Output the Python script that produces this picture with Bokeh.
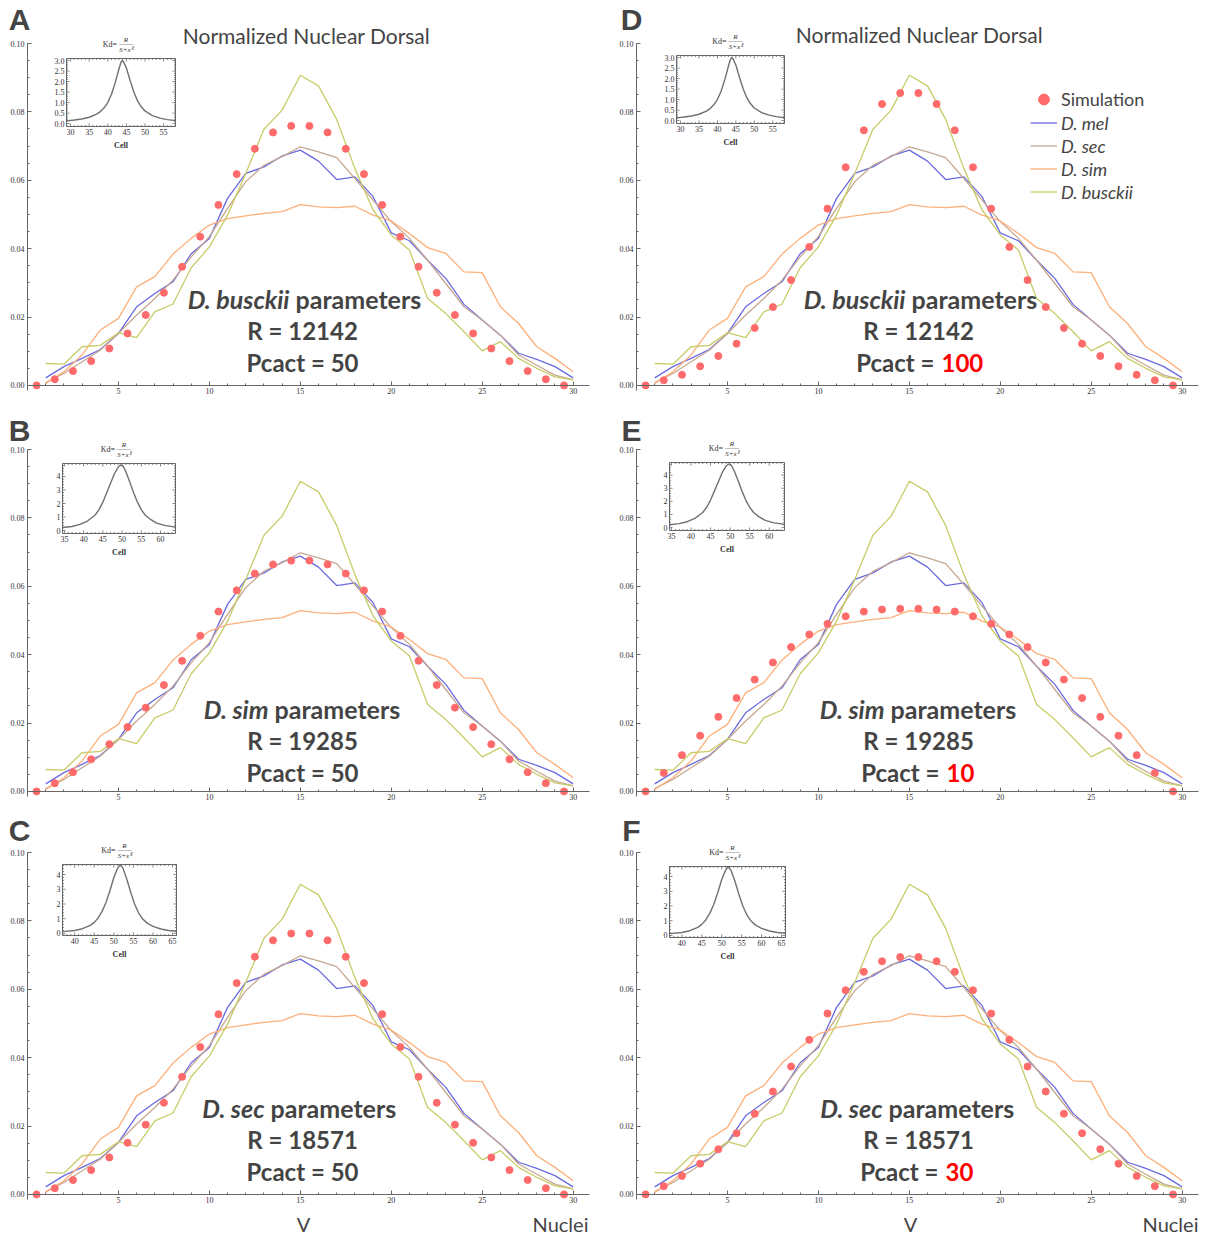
from bokeh.plotting import figure
from bokeh.models import Range1d, FixedTicker, NumeralTickFormatter, Label, Legend, LegendItem
from bokeh.layouts import column, row
from bokeh.embed import file_html
from bokeh.resources import INLINE
from bokeh.core.properties import value

# ---------------- data ----------------
NUCLEI = list(range(1, 31))
SIM_X = [i + 0.5 for i in range(30)]

MEL = [.0022, .0055, .0079, .0105, .0152, .0230, .0269, .0303, .0385, .0430,
       .0547, .0620, .0639, .0671, .0688, .0656, .0602, .0610, .0552, .0446,
       .0423, .0366, .0313, .0237, .0191, .0147, .0094, .0076, .0055, .0022]
SEC = [.0008, .0035, .0069, .0103, .0152, .0206, .0254, .0308, .0376, .0435,
       .0518, .0596, .0644, .0669, .0698, .0683, .0666, .0605, .0542, .0479,
       .0430, .0366, .0298, .0230, .0191, .0147, .0089, .0059, .0030, .0016]
SIM = [.0006, .0040, .0089, .0162, .0196, .0288, .0318, .0384, .0430, .0469,
       .0488, .0496, .0503, .0508, .0529, .0522, .0520, .0524, .0498, .0481,
       .0444, .0403, .0386, .0332, .0330, .0230, .0181, .0113, .0079, .0040]
BUSCKII = [.0064, .0062, .0113, .0117, .0154, .0140, .0215, .0238, .0344, .0405,
           .0498, .0620, .0749, .0805, .0907, .0876, .0778, .0634, .0513, .0440,
           .0396, .0254, .0210, .0157, .0101, .0128, .0079, .0050, .0025, .0016]

SIMULATION_A = [0, .0018, .0042, .0071, .0108, .0152, .0206, .0271, .0347, .0435,
                .0528, .0618, .0692, .0740, .0759, .0759, .0740, .0692, .0618, .0528,
                .0435, .0347, .0271, .0206, .0152, .0108, .0071, .0042, .0018, 0]
SIMULATION_D = [0, .0015, .0031, .0056, .0086, .0122, .0168, .0229, .0308, .0405,
                .0517, .0638, .0746, .0823, .0855, .0855, .0823, .0746, .0638, .0517,
                .0405, .0308, .0229, .0168, .0122, .0086, .0056, .0031, .0015, 0]
SIMULATION_B = [0, .0024, .0056, .0094, .0138, .0188, .0245, .0311, .0382, .0455,
                .0526, .0588, .0637, .0664, .0675, .0675, .0664, .0637, .0588, .0526,
                .0455, .0382, .0311, .0245, .0188, .0138, .0094, .0056, .0024, 0]
SIMULATION_E = [0, .0054, .0106, .0163, .0218, .0273, .0327, .0377, .0422, .0459,
                .0490, .0512, .0526, .0532, .0534, .0534, .0532, .0526, .0512, .0490,
                .0459, .0422, .0377, .0327, .0273, .0218, .0163, .0106, .0054, 0]
SIMULATION_C = [0, .0018, .0042, .0071, .0108, .0151, .0204, .0268, .0344, .0431,
                .0527, .0618, .0695, .0743, .0763, .0763, .0743, .0695, .0618, .0527,
                .0431, .0344, .0268, .0204, .0151, .0108, .0071, .0042, .0018, 0]
SIMULATION_F = [0, .0024, .0054, .0090, .0132, .0179, .0236, .0301, .0374, .0452,
                .0529, .0597, .0651, .0682, .0694, .0694, .0682, .0651, .0597, .0529,
                .0452, .0374, .0301, .0236, .0179, .0132, .0090, .0054, .0024, 0]

# inset curves (Kd vs Cell)
KD1_X = [28.9, 31, 33, 35, 37, 38, 39, 40, 41, 42, 43, 43.5, 43.8, 44.2, 45, 46, 47, 48, 49, 50, 52, 54, 56, 58.2]
KD1_Y = [0.13, 0.17, 0.22, 0.30, 0.45, 0.57, 0.75, 1.00, 1.40, 1.95, 2.60, 2.90, 3.00, 2.95, 2.65, 2.05, 1.50, 1.08, 0.80, 0.60, 0.38, 0.26, 0.19, 0.14]
KD2_X = [34.5, 37, 39, 41, 43, 44, 45, 46, 47, 48, 49, 49.6, 50.3, 51, 52, 53, 54, 55, 56, 57.5, 59, 61, 63.9]
KD2_Y = [0.22, 0.30, 0.45, 0.70, 1.15, 1.55, 2.10, 2.80, 3.50, 4.20, 4.70, 4.85, 4.75, 4.35, 3.60, 2.80, 2.10, 1.55, 1.15, 0.80, 0.55, 0.38, 0.25]
KD3_X = [36.9, 40, 42, 44, 45, 46, 47, 48, 49, 50, 51, 51.6, 52.3, 53.3, 54.3, 55.3, 56.3, 57.3, 58.5, 60, 62, 64, 66]
KD3_Y = [0.12, 0.20, 0.32, 0.55, 0.75, 1.05, 1.50, 2.10, 2.90, 3.80, 4.45, 4.65, 4.45, 3.70, 2.80, 2.00, 1.40, 1.00, 0.70, 0.48, 0.30, 0.20, 0.15]

X_TICKS = [5, 10, 15, 20, 25, 30]
Y_TICKS = [0.0, 0.02, 0.04, 0.06, 0.08, 0.10]

SPECIES = ["D. mel", "D. sec", "D. sim", "D. busckii"]
CURVES = [MEL, SEC, SIM, BUSCKII]
COLORS = ["#6a6ae0", "#c6a892", "#fdb07a", "#c8cc68"]
DOT = "#ff6b6b"

# ---------------- layout constants (pixels) ----------------
ROW_H = [406, 403, 427]
COL_W = [610, 598]
X0_PX = [27, 26]          # pixel position of x = 0 inside each column
Y10_PX = 43               # pixel position of y = 0.10 from the top of each row
KX = 562 / 30.9           # px per nucleus
KY = 346 / 0.1012         # px per unit of dorsal

INSETS = {
    "AD": dict(xlim=(28.9, 58.2), ylim=(-0.14, 3.1), xs=KD1_X, ys=KD1_Y,
               xt=[30, 35, 40, 45, 50, 55], yt=[0, .5, 1, 1.5, 2, 2.5, 3],
               yl=["0.0", "0.5", "1.0", "1.5", "2.0", "2.5", "3.0"], ym=0.1),
    "BE": dict(xlim=(34.5, 63.9), ylim=(-0.22, 4.96), xs=KD2_X, ys=KD2_Y,
               xt=[35, 40, 45, 50, 55, 60], yt=[0, 1, 2, 3, 4],
               yl=["0", "1", "2", "3", "4"], ym=0.2),
    "CF": dict(xlim=(36.9, 66.0), ylim=(-0.14, 4.68), xs=KD3_X, ys=KD3_Y,
               xt=[40, 45, 50, 55, 60, 65], yt=[0, 1, 2, 3, 4],
               yl=["0", "1", "2", "3", "4"], ym=0.2),
}

# positions are pixels from the top-left of each panel's figure
PANELS = [
    dict(letter="A", col=0, row=0, sp="D. busckii", R="12142", pc="50", red=False, sim=SIMULATION_A,
         inset="AD", box=(66, 58, 175, 126), split=292, lines=(298, 330, 362), lxy=(19, 19), title=(306, 35)),
    dict(letter="D", col=1, row=0, sp="D. busckii", R="12142", pc="100", red=True, sim=SIMULATION_D,
         inset="AD", box=(66, 55, 174, 123), split=298, lines=(298, 330, 362), lxy=(21, 19), title=(309, 34),
         legend=True, nx=331),
    dict(letter="B", col=0, row=1, sp="D. sim", R="19285", pc="50", red=False, sim=SIMULATION_B,
         inset="BE", box=(62, 57, 175, 127), split=271, lines=(302, 334, 366), lxy=(19, 24)),
    dict(letter="E", col=1, row=1, sp="D. sim", R="19285", pc="10", red=True, sim=SIMULATION_E,
         inset="BE", box=(59, 56, 174, 124), split=277, lines=(302, 334, 366), lxy=(21, 24), nx=336),
    dict(letter="C", col=0, row=2, sp="D. sec", R="18571", pc="50", red=False, sim=SIMULATION_C,
         inset="CF", box=(62, 55, 176, 126), split=267, lines=(298, 330, 362), lxy=(19, 21), bottom=(303, 560)),
    dict(letter="F", col=1, row=2, sp="D. sec", R="18571", pc="30", red=True, sim=SIMULATION_F,
         inset="CF", box=(59, 57, 175, 128), split=275, lines=(298, 330, 362), lxy=(21, 21), nx=335,
         bottom=(300, 560)),
]

SERIF = "Liberation Serif"
SANS = "Lato"
GREY = "#666666"


def lab(p, H, px, py, text, size, **kw):
    p.add_layout(Label(x=px, y=H - py, x_units="screen", y_units="screen", text=text,
                       text_font=kw.pop("font", SANS), text_font_size=size,
                       text_align=kw.pop("align", "center"), text_baseline=kw.pop("baseline", "middle"),
                       **kw))


def add_inset(p, W, H, box, spec):
    l, t, r, b = box
    x0, x1 = spec["xlim"]
    y0, y1 = spec["ylim"]
    kx = (r - l) / (x1 - x0)
    ky = (b - t) / (y1 - y0)
    xs0 = x0 - l / kx
    ytop = y1 + t / ky
    p.extra_x_ranges["inset"] = Range1d(xs0, xs0 + W / kx)
    p.extra_y_ranges["inset"] = Range1d(ytop - H / ky, ytop)
    kw = dict(x_range_name="inset", y_range_name="inset")
    p.quad(left=[x0], right=[x1], bottom=[y0], top=[y1], fill_color="white",
           line_color=GREY, line_width=1, **kw)
    p.line(spec["xs"], spec["ys"], line_color="#707070", line_width=1.4, **kw)
    xt, yt = spec["xt"], spec["yt"]
    xminor = [v for v in range(int(x0) + 1, int(x1) + 1) if v not in xt]
    yminor = []
    v = 0.0
    while v < y1:
        if all(abs(v - q) > 1e-6 for q in yt):
            yminor.append(round(v, 3))
        v += spec["ym"]
    for ticks, ln in ((xt, 3.0), (xminor, 1.5)):
        n = len(ticks)
        p.segment(x0=ticks, y0=[y0] * n, x1=ticks, y1=[y0 + ln / ky] * n, line_color=GREY, line_width=0.8, **kw)
        p.segment(x0=ticks, y0=[y1] * n, x1=ticks, y1=[y1 - ln / ky] * n, line_color=GREY, line_width=0.8, **kw)
    for ticks, ln in ((yt, 3.0), (yminor, 1.5)):
        n = len(ticks)
        p.segment(x0=[x0] * n, y0=ticks, x1=[x0 + ln / kx] * n, y1=ticks, line_color=GREY, line_width=0.8, **kw)
        p.segment(x0=[x1] * n, y0=ticks, x1=[x1 - ln / kx] * n, y1=ticks, line_color=GREY, line_width=0.8, **kw)
    p.text(x=xt, y=[y0] * len(xt), text=[str(v) for v in xt], text_font=value(SERIF),
           text_font_size="8px", text_align="center", text_baseline="top", y_offset=2,
           text_color="#333333", **kw)
    p.text(x=[x0] * len(yt), y=yt, text=spec["yl"], text_font=value(SERIF),
           text_font_size="8px", text_align="right", text_baseline="middle", x_offset=-2,
           text_color="#333333", **kw)
    cx = (l + r) / 2
    lab(p, H, cx, b + 19, "Cell", "8px", font=SERIF, text_font_style="bold", text_color="#333333")
    lab(p, H, cx - 4, t - 14, "Kd=", "8px", font=SERIF, align="right", text_color="#333333")
    lab(p, H, cx + 5, t - 19, "R", "7px", font=SERIF, text_font_style="italic", text_color="#333333")
    lab(p, H, cx + 5, t - 14.5, "\u2014\u2014", "7px", font=SERIF, text_color="#333333")
    lab(p, H, cx + 4, t - 9, "S+x", "7px", font=SERIF, text_font_style="italic", text_color="#333333")
    lab(p, H, cx + 12, t - 11, "\u2113", "6px", font=SERIF, text_font_style="italic", text_color="#333333")


def make_panel(s):
    col, rw = s["col"], s["row"]
    H, W = ROW_H[rw], COL_W[col]
    xs = -X0_PX[col] / KX
    ye = 0.1 + Y10_PX / KY
    p = figure(width=W, height=H, frame_width=W, frame_height=H,
               min_border_left=0, min_border_right=0, min_border_top=0, min_border_bottom=0,
               x_range=Range1d(xs, xs + W / KX), y_range=Range1d(ye - H / KY, ye),
               output_backend="svg", toolbar_location=None)
    p.outline_line_color = None
    p.grid.visible = False
    p.background_fill_color = "white"
    p.border_fill_color = "white"

    p.xaxis.fixed_location = 0
    p.yaxis.fixed_location = 0
    p.xaxis.bounds = (0, 30.9)
    p.yaxis.bounds = (-0.0015, 0.1)
    p.xaxis.ticker = FixedTicker(ticks=X_TICKS, minor_ticks=list(range(0, 31)))
    p.yaxis.ticker = FixedTicker(ticks=Y_TICKS, minor_ticks=[i * 0.005 for i in range(21)])
    p.yaxis.formatter = NumeralTickFormatter(format="0.00")
    for ax in (p.xaxis, p.yaxis):
        ax.axis_line_color = GREY
        ax.major_tick_line_color = GREY
        ax.minor_tick_line_color = GREY
        ax.major_tick_in = 4
        ax.major_tick_out = 0
        ax.minor_tick_in = 2
        ax.minor_tick_out = 0
        ax.major_label_text_font = SERIF
        ax.major_label_text_font_size = "8px"
        ax.major_label_text_color = "#333333"
        ax.major_label_standoff = 3

    rends = []
    for ys, c in zip(CURVES, COLORS):
        rends.append(p.line(NUCLEI, ys, line_color=c, line_width=1.3))
    sc = p.scatter(SIM_X, s["sim"], size=7, fill_color=DOT, line_color=DOT)

    add_inset(p, W, H, s["box"], INSETS[s["inset"]])

    # panel letter
    lab(p, H, s["lxy"][0], s["lxy"][1], s["letter"], "30px", font="Liberation Sans", text_font_style="bold")
    if s.get("title"):
        lab(p, H, s["title"][0], s["title"][1], "Normalized Nuclear Dorsal", "21px")
    cx = 302 if col == 0 else 308
    l1, l2, l3 = s["lines"]
    sp = s["split"]
    lab(p, H, sp - 3, l1, s["sp"], "25px", align="right", text_font_style="bold italic")
    lab(p, H, sp + 3, l1, "parameters", "25px", align="left", text_font_style="bold")
    lab(p, H, cx, l2, "R = " + s["R"], "24px", text_font_style="bold")
    if s["red"]:
        nx = s["nx"]
        lab(p, H, nx - 7, l3, "Pcact =", "24px", align="right", text_font_style="bold")
        lab(p, H, nx, l3, s["pc"], "24px", align="left", text_font_style="bold", text_color="#ff0000")
    else:
        lab(p, H, cx, l3, "Pcact = " + s["pc"], "24px", text_font_style="bold")

    if s.get("bottom"):
        bx = s["bottom"]
        lab(p, H, bx[0], 414, "V", "20px")
        lab(p, H, bx[1], 414, "Nuclei", "20px")

    if s.get("legend"):
        leg1 = Legend(items=[LegendItem(label="Simulation", renderers=[sc])], location=(420, H - 114),
                      glyph_width=27, glyph_height=30, label_height=30, padding=0, margin=0, spacing=0,
                      label_standoff=4, border_line_color=None, background_fill_alpha=0,
                      label_text_font=SANS, label_text_font_size="18px")
        leg2 = Legend(items=[LegendItem(label=n, renderers=[r]) for n, r in zip(SPECIES, rends)],
                      location=(420, H - 203), glyph_width=27, glyph_height=23, label_height=23,
                      padding=0, margin=0, spacing=0, label_standoff=4, border_line_color=None,
                      background_fill_alpha=0, label_text_font=SANS, label_text_font_size="18px",
                      label_text_font_style="italic")
        p.add_layout(leg1)
        p.add_layout(leg2)
    return p


figs = {s["letter"]: make_panel(s) for s in PANELS}
layout = column(row(figs["A"], figs["D"]), row(figs["B"], figs["E"]), row(figs["C"], figs["F"]))
open("out.html", "w").write(file_html(layout, INLINE))
